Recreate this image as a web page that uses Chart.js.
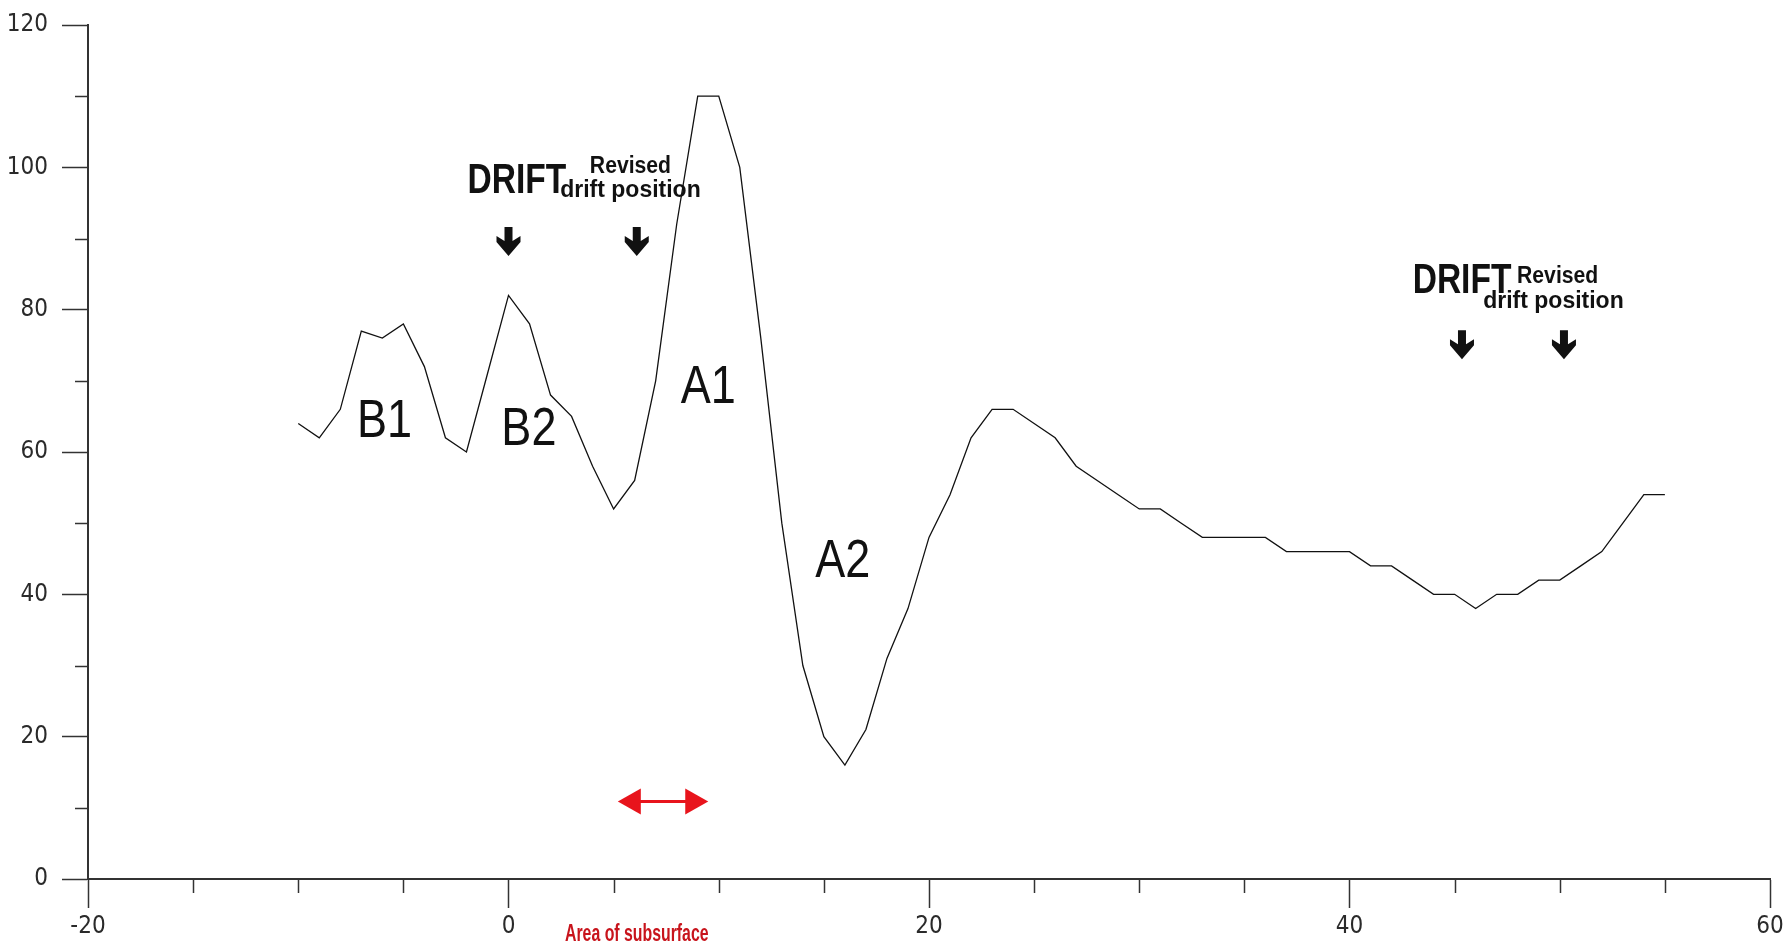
<!DOCTYPE html>
<html>
<head>
<meta charset="utf-8">
<script src="https://cdn.jsdelivr.net/npm/chart.js@4.4.1/dist/chart.umd.min.js"></script>
<style>
  html, body { margin: 0; padding: 0; background: #fff; }
  #wrap { width: 1787px; height: 945px; }
</style>
</head>
<body>
<div id="wrap"><canvas id="profile"></canvas></div>
<script>
// profile readings
var xs = [-10,-9,-8,-7,-6,-5,-4,-3,-2,-1,0,1,2,3,4,5,6,7,8,9,10,11,12,13,14,15,16,17,18,19,20,21,22,23,24,25,26,27,28,29,30,31,32,33,34,35,36,37,38,39,40,41,42,43,44,45,46,47,48,49,50,51,52,53,54,55];
var ys = [64,62,66,77,76,78,72,62,60,71,82,78,68,65,58,52,56,70,92,110,110,100,76,50,30,20,16,21,31,38,48,54,62,66,66,64,62,58,56,54,52,52,50,48,48,48,48,46,46,46,46,44,44,42,40,40,38,40,40,42,42,44,46,50,54,54];

// axis ticks
var xTicks = [-20, 0, 20, 40, 60];
var yTicks = [0, 20, 40, 60, 80, 100, 120];
var xMinor = [-15,-10,-5,5,10,15,25,30,35,45,50,55];
var yMinor = [10,30,50,70,90,110];

// peak names
var peakNames = ['B1', 'B2', 'A1', 'A2'];
var peakX = [-5.9, 0.97, 9.5, 15.9];
var peakY = [62.1, 61.0, 66.9, 42.4];

// drift markers (two groups)
var driftX = [2.75, 47.7];
var driftY = [96.4, 82.3];
var revisedX = [5.8, 49.9];
var revisedY = [99.2, 83.7];
var positionX = [5.8, 49.7];
var positionY = [95.9, 80.2];
var arrowX = [0, 6.1, 45.35, 50.2];
var arrowY = [91.6, 91.6, 77.1, 77.1];

// subsurface range
var areaFrom = 5.2, areaTo = 9.5, areaY = 10.9;
var areaLabel = 'Area of subsurface';
var areaLabelX = 6.1;

var points = xs.map(function (v, i) { return { x: v, y: ys[i] }; });

function squeeze(ctx, text, px, py, font, sx, align, color) {
  ctx.save();
  ctx.translate(px, py);
  ctx.scale(sx, 1);
  ctx.font = font;
  ctx.textAlign = align;
  ctx.textBaseline = 'alphabetic';
  ctx.fillStyle = color;
  ctx.fillText(text, 0, 0);
  ctx.restore();
}

function downArrow(ctx, cx, top) {
  ctx.beginPath();
  ctx.moveTo(cx - 4, top);
  ctx.lineTo(cx + 4, top);
  ctx.lineTo(cx + 4, top + 14);
  ctx.lineTo(cx + 12, top + 9);
  ctx.lineTo(cx + 12, top + 15);
  ctx.lineTo(cx, top + 29);
  ctx.lineTo(cx - 12, top + 15);
  ctx.lineTo(cx - 12, top + 9);
  ctx.lineTo(cx - 4, top + 14);
  ctx.closePath();
  ctx.fill();
}

var overlay = {
  id: 'overlay',
  afterDraw: function (chart) {
    var ctx = chart.ctx, x = chart.scales.x, y = chart.scales.y;
    ctx.save();
    // minor ticks
    ctx.strokeStyle = '#333';
    ctx.lineWidth = 1.5;
    xMinor.forEach(function (v) {
      var px = Math.round(x.getPixelForValue(v)) + 0.5;
      ctx.beginPath(); ctx.moveTo(px, y.bottom); ctx.lineTo(px, y.bottom + 14); ctx.stroke();
    });
    yMinor.forEach(function (v) {
      var py = Math.round(y.getPixelForValue(v)) + 0.5;
      ctx.beginPath(); ctx.moveTo(x.left - 13, py); ctx.lineTo(x.left, py); ctx.stroke();
    });

    var sans = "'Liberation Sans', Arial, sans-serif";
    peakNames.forEach(function (t, i) {
      squeeze(ctx, t, x.getPixelForValue(peakX[i]), y.getPixelForValue(peakY[i]),
        '53px ' + sans, 0.85, 'center', '#111');
    });
    for (var i = 0; i < driftX.length; i++) {
      squeeze(ctx, 'DRIFT', x.getPixelForValue(driftX[i]), y.getPixelForValue(driftY[i]),
        'bold 43px ' + sans, 0.78, 'right', '#111');
      squeeze(ctx, 'Revised', x.getPixelForValue(revisedX[i]), y.getPixelForValue(revisedY[i]),
        'bold 23px ' + sans, 0.92, 'center', '#111');
      squeeze(ctx, 'drift position', x.getPixelForValue(positionX[i]), y.getPixelForValue(positionY[i]),
        'bold 23px ' + sans, 1.0, 'center', '#111');
    }
    ctx.fillStyle = '#111';
    arrowX.forEach(function (v, i) {
      downArrow(ctx, x.getPixelForValue(v), y.getPixelForValue(arrowY[i]));
    });

    // red double arrow
    var x1 = x.getPixelForValue(areaFrom), x2 = x.getPixelForValue(areaTo), py = y.getPixelForValue(areaY);
    ctx.strokeStyle = '#e8141c';
    ctx.fillStyle = '#e8141c';
    ctx.lineWidth = 3;
    ctx.beginPath(); ctx.moveTo(x1 + 20, py); ctx.lineTo(x2 - 20, py); ctx.stroke();
    ctx.beginPath(); ctx.moveTo(x1, py); ctx.lineTo(x1 + 23, py - 13); ctx.lineTo(x1 + 23, py + 13); ctx.closePath(); ctx.fill();
    ctx.beginPath(); ctx.moveTo(x2, py); ctx.lineTo(x2 - 23, py - 13); ctx.lineTo(x2 - 23, py + 13); ctx.closePath(); ctx.fill();
    squeeze(ctx, areaLabel, x.getPixelForValue(areaLabelX), y.bottom + 62, 'bold 24px ' + sans, 0.66, 'center', '#c8141c');
    ctx.restore();
  }
};

var tickFont = { family: "'Liberation Sans Narrow', 'DejaVu Sans Condensed', sans-serif", size: 24 };

new Chart(document.getElementById('profile'), {
  type: 'scatter',
  data: {
    datasets: [{
      data: points,
      showLine: true,
      borderColor: '#111',
      borderWidth: 1.3,
      pointRadius: 0,
      tension: 0
    }]
  },
  options: {
    responsive: true,
    maintainAspectRatio: false,
    animation: false,
    layout: { padding: { left: 0, top: 25, right: 17, bottom: 0 } },
    plugins: { legend: { display: false }, tooltip: { enabled: false } },
    scales: {
      x: {
        type: 'linear', min: -20, max: 60,
        afterBuildTicks: function (s) { s.ticks = xTicks.map(function (v) { return { value: v }; }); },
        afterFit: function (s) { s.height = 66; s.paddingLeft = 0; s.paddingRight = 0; },
        grid: { drawOnChartArea: false, tickLength: 29, tickColor: '#333', tickWidth: 1.5 },
        border: { color: '#333', width: 2 },
        ticks: { color: '#2a2a2a', font: tickFont, padding: 4, maxRotation: 0 }
      },
      y: {
        type: 'linear', min: 0, max: 120,
        afterBuildTicks: function (s) { s.ticks = yTicks.map(function (v) { return { value: v }; }); },
        afterFit: function (s) { s.width = 88; s.paddingTop = 0; s.paddingBottom = 0; },
        grid: { drawOnChartArea: false, tickLength: 26, tickColor: '#333', tickWidth: 1.5 },
        border: { color: '#333', width: 2 },
        ticks: { color: '#2a2a2a', font: tickFont, padding: 14 }
      }
    }
  },
  plugins: [overlay]
});
</script>
</body>
</html>
